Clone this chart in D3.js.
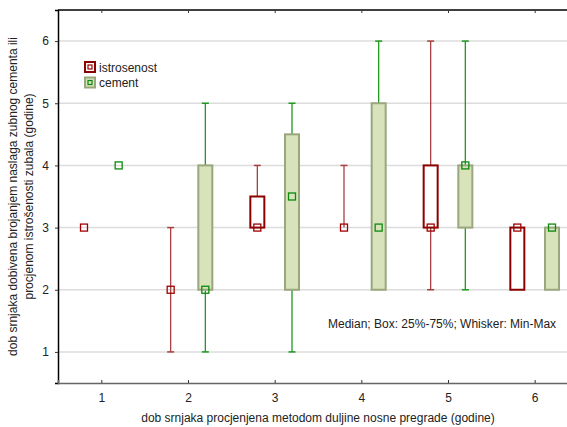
<!DOCTYPE html>
<html>
<head>
<meta charset="utf-8">
<script src="https://cdn.jsdelivr.net/npm/d3@7"></script>
<style>
  body { margin: 0; background: #fff; }
  svg { display: block; font-family: "Liberation Sans", Arial, sans-serif; }
</style>
</head>
<body>
<div id="chart"></div>
<script>
// data
var categories = [1, 2, 3, 4, 5, 6];

var istMedian = [3, 2, 3, 3, 3, 3];
var istQ1     = [3, 2, 3, 3, 3, 2];
var istQ3     = [3, 2, 3.5, 3, 4, 3];
var istMin    = [3, 1, 3, 3, 2, 2];
var istMax    = [3, 3, 4, 4, 6, 3];

var cemMedian = [4, 2, 3.5, 3, 4, 3];
var cemQ1     = [4, 2, 2, 2, 3, 2];
var cemQ3     = [4, 4, 4.5, 5, 4, 3];
var cemMin    = [4, 1, 1, 2, 2, 2];
var cemMax    = [4, 5, 5, 6, 6, 3];

var yTicks = [1, 2, 3, 4, 5, 6];
var seriesNames = ["istrosenost", "cement"];

var W = 567, H = 427;
var svg = d3.select("#chart").append("svg").attr("width", W).attr("height", H);

var x = d3.scaleLinear().domain([0.5, 6.5]).range([58, 578]);
var y = d3.scaleLinear().domain([0.5, 6.5]).range([383, 10]);

// grid
svg.append("g").selectAll("line").data(yTicks).enter().append("line")
  .attr("x1", x(0.5)).attr("x2", x(6.5))
  .attr("y1", function (d) { return y(d); })
  .attr("y2", function (d) { return y(d); })
  .style("stroke", "#dcdcdc").style("stroke-width", 1.5);

// axes
var fmt = d3.format("d");
var yAxis = svg.append("g").attr("transform", "translate(" + x(0.5) + ",0)")
  .call(d3.axisLeft(y).tickValues(yTicks).tickFormat(fmt).tickSize(3).tickPadding(6));
var xAxis = svg.append("g").attr("transform", "translate(0," + y(0.5) + ")")
  .call(d3.axisBottom(x).tickValues(categories).tickFormat(fmt).tickSize(-3).tickPadding(10));
var topAxis = svg.append("g").attr("transform", "translate(0," + y(6.5) + ")")
  .call(d3.axisTop(x).tickValues(categories).tickSize(-3).tickFormat(""));

[yAxis, xAxis, topAxis].forEach(function (a) {
  a.selectAll("text").style("font-size", "12px").style("fill", "#222");
  a.select(".domain").style("stroke", "#000").style("stroke-width", 1.5);
  a.selectAll(".tick line").style("stroke", "#333");
});
xAxis.select(".domain").style("stroke", "#666");
topAxis.select(".domain").attr("d", "M" + x(0.5) + ",0H" + W);

function series(off, med, q1, q3, mn, mx, sty) {
  var g = svg.append("g");
  var bw = 14, cap = 7;
  categories.forEach(function (c, i) {
    var cx = x(c + off);
    if (mx[i] > q3[i]) {
      g.append("line").attr("x1", cx).attr("x2", cx).attr("y1", y(q3[i])).attr("y2", y(mx[i]))
        .style("stroke", sty.whisker).style("stroke-width", 1.3);
      g.append("line").attr("x1", cx - cap / 2).attr("x2", cx + cap / 2).attr("y1", y(mx[i])).attr("y2", y(mx[i]))
        .style("stroke", sty.whisker).style("stroke-width", 1.5);
    }
    if (mn[i] < q1[i]) {
      g.append("line").attr("x1", cx).attr("x2", cx).attr("y1", y(q1[i])).attr("y2", y(mn[i]))
        .style("stroke", sty.whisker).style("stroke-width", 1.3);
      g.append("line").attr("x1", cx - cap / 2).attr("x2", cx + cap / 2).attr("y1", y(mn[i])).attr("y2", y(mn[i]))
        .style("stroke", sty.whisker).style("stroke-width", 1.5);
    }
    if (q3[i] > q1[i]) {
      g.append("rect").attr("x", cx - bw / 2).attr("width", bw)
        .attr("y", y(q3[i])).attr("height", y(q1[i]) - y(q3[i]))
        .style("fill", sty.fill).style("stroke", sty.box).style("stroke-width", 2);
    }
    g.append("rect").attr("x", cx - 3.5).attr("y", y(med[i]) - 3.5).attr("width", 7).attr("height", 7)
      .style("fill", "none").style("stroke", sty.marker).style("stroke-width", 1.3);
  });
}

var redStyle = { whisker: "#a84040", box: "#8b0000", fill: "#fff", marker: "#a00000" };
var greenStyle = { whisker: "#1f9a1f", box: "#9aa67c", fill: "#d8e3bc", marker: "#0a8a0a" };

series(-0.2, istMedian, istQ1, istQ3, istMin, istMax, redStyle);
series(0.2, cemMedian, cemQ1, cemQ3, cemMin, cemMax, greenStyle);

// legend
var legStyles = [redStyle, greenStyle];
var leg = svg.append("g");
seriesNames.forEach(function (n, i) {
  var ly = 62 + i * 15.5;
  var s = legStyles[i];
  leg.append("rect").attr("x", 85).attr("y", ly).attr("width", 10).attr("height", 10)
    .style("fill", s.fill).style("stroke", s.box).style("stroke-width", 2);
  leg.append("rect").attr("x", 88).attr("y", ly + 3).attr("width", 4).attr("height", 4)
    .style("fill", "none").style("stroke", s.marker).style("stroke-width", 1.2);
  leg.append("text").attr("x", 99).attr("y", ly + 9.5).text(n)
    .style("font-size", "12px").style("fill", "#222");
});

// notes and titles
svg.append("text").attr("x", 328).attr("y", 328).text("Median; Box: 25%-75%; Whisker: Min-Max")
  .style("font-size", "12px").style("fill", "#222");

svg.append("text").attr("x", 318).attr("y", 422).attr("text-anchor", "middle")
  .text("dob srnjaka procjenjena metodom duljine nosne pregrade (godine)")
  .style("font-size", "12px").style("fill", "#222");

var yt = svg.append("text").attr("transform", "translate(17," + y(3.5) + ") rotate(-90)")
  .attr("text-anchor", "middle").style("font-size", "12px").style("fill", "#222");
yt.append("tspan").attr("x", 0).attr("dy", 0).text("dob srnjaka dobivena brojanjem naslaga zubnog cementa ili");
yt.append("tspan").attr("x", 0).attr("dy", 16).text("procjenom istrošenosti zubala (godine)");
</script>
</body>
</html>
